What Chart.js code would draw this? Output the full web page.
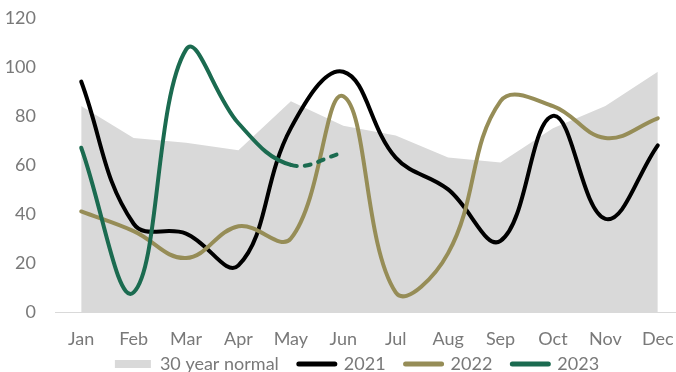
<!DOCTYPE html>
<html>
<head>
<meta charset="utf-8">
<script src="https://cdn.jsdelivr.net/npm/chart.js@4/dist/chart.umd.min.js"></script>
<style>
  html, body { margin: 0; padding: 0; overflow: hidden; background: #ffffff; }
  #wrap { width: 690px; height: 400px; }
</style>
</head>
<body>
<div id="wrap"><canvas id="rainChart" width="690" height="400"></canvas></div>
<script>
// Monthly rainfall, with the 30-year normal as a shaded area
const months = ['Jan', 'Feb', 'Mar', 'Apr', 'May', 'Jun', 'Jul', 'Aug', 'Sep', 'Oct', 'Nov', 'Dec'];
const normal30 = [84, 71, 69, 66, 86, 76, 72, 63, 61, 75, 84, 98];
const rain2021 = [94, 36, 32, 19, 75, 98, 63, 50, 29, 80, 38, 68];
const rain2022 = [41, 33, 22, 35, 30, 88, 8, 24, 86, 84, 71, 79];
const rain2023 = [67, 8, 107, 77, 60, 65];
const seriesNames = ['30 year normal', '2021', '2022', '2023'];
const yMin = 0;
const yMax = 120;
const yStep = 20;

const textGray = '#797979';
const fontSpec = { family: 'Lato, "Liberation Sans", sans-serif', size: 18 };

const lineStyle = (color) => ({
  borderColor: color,
  backgroundColor: color,
  borderWidth: 4,
  borderCapStyle: 'round',
  borderJoinStyle: 'round',
  pointRadius: 0,
  pointHoverRadius: 0,
  tension: 0.4,
  fill: false
});

// Pull the legend row up under the month labels and nudge it right
const legendPlacement = {
  id: 'legendPlacement',
  afterLayout(chart) {
    const lg = chart.legend;
    if (!lg) return;
    const dy = -17, dx = 15;
    lg.top += dy; lg.bottom += dy;
    lg.left += dx; lg.right += dx;
  }
};

new Chart(document.getElementById('rainChart'), {
  type: 'line',
  data: {
    labels: months,
    datasets: [
      {
        label: seriesNames[0],
        data: normal30,
        backgroundColor: '#d9d9d9',
        borderColor: '#d9d9d9',
        borderWidth: 0,
        pointRadius: 0,
        tension: 0,
        fill: 'origin',
        order: 3
      },
      Object.assign({ label: seriesNames[1], data: rain2021, order: 2 }, lineStyle('#000000')),
      Object.assign({ label: seriesNames[2], data: rain2022, order: 1 }, lineStyle('#968d57')),
      Object.assign({
        label: seriesNames[3],
        data: rain2023,
        order: 0,
        // the last month (May to Jun) is provisional and drawn dashed
        segment: {
          borderDash: (ctx) => (ctx.p0DataIndex === 4 ? [6, 8] : undefined)
        }
      }, lineStyle('#1b6b50'))
    ]
  },
  plugins: [legendPlacement],
  options: {
    responsive: false,
    animation: false,
    events: [],
    layout: { padding: { top: 0, left: 0, right: 6, bottom: 0 } },
    scales: {
      x: {
        offset: true,
        // hidden tick marks still reserve their length, which spaces the labels
        grid: { display: false, drawTicks: true, tickLength: 12 },
        border: { display: true, color: '#d9d9d9', width: 1 },
        ticks: { color: textGray, font: fontSpec, padding: 4, maxRotation: 0, autoSkip: false },
        afterFit(scale) { scale.height = 40; }
      },
      y: {
        min: yMin,
        max: yMax,
        grid: { display: false, drawTicks: true, tickLength: 12 },
        border: { display: false },
        ticks: { stepSize: yStep, color: textGray, font: fontSpec, padding: 7 },
        afterFit(scale) { scale.width = 55; }
      }
    },
    plugins: {
      tooltip: { enabled: false },
      legend: {
        position: 'bottom',
        labels: {
          color: textGray,
          font: fontSpec,
          usePointStyle: true,
          pointStyleWidth: 36,
          boxHeight: 8,
          padding: 20,
          generateLabels(chart) {
            return chart.data.datasets.map((ds, i) => {
              if (i === 0) {
                return {
                  text: ds.label, datasetIndex: i, hidden: false, fontColor: textGray,
                  pointStyle: 'rect', fillStyle: ds.backgroundColor,
                  strokeStyle: 'rgba(0,0,0,0)', lineWidth: 0
                };
              }
              return {
                text: ds.label, datasetIndex: i, hidden: false, fontColor: textGray,
                pointStyle: 'line', fillStyle: ds.borderColor, strokeStyle: ds.borderColor,
                lineWidth: 5, lineCap: 'round'
              };
            });
          }
        }
      }
    }
  }
});
</script>
</body>
</html>
